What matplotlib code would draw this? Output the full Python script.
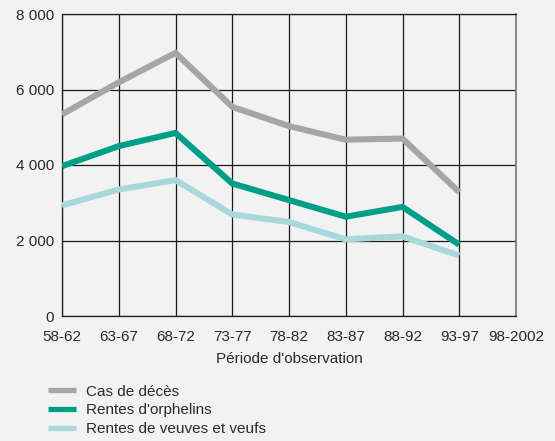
import numpy as np
import matplotlib.pyplot as plt

# Données
periodes = ['58-62', '63-67', '68-72', '73-77', '78-82', '83-87', '88-92', '93-97', '98-2002']
cas_deces = [5340, 6190, 6970, 5540, 5030, 4670, 4700, 3280]
rentes_orphelins = [3970, 4500, 4850, 3510, 3070, 2630, 2890, 1890]
rentes_veuves = [2930, 3350, 3600, 2690, 2490, 2030, 2110, 1600]
yticks = [0, 2000, 4000, 6000, 8000]
ytick_labels = ['0', '2 000', '4 000', '6 000', '8 000']

plt.rcParams['font.family'] = ['Liberation Sans', 'DejaVu Sans']
plt.rcParams['font.size'] = 11

fond = '#f2f2f2'
fig = plt.figure(figsize=(5.55, 4.41), dpi=100, facecolor=fond)
ax = fig.add_axes([62 / 555, 125 / 441, 454 / 555, 302 / 441])
ax.set_facecolor(fond)

x = np.arange(len(periodes))
series = [
    (cas_deces, '#a6a6a6', 'Cas de décès'),
    (rentes_orphelins, '#00a088', "Rentes d'orphelins"),
    (rentes_veuves, '#a9d8dc', 'Rentes de veuves et veufs'),
]
for vals, couleur, nom in series:
    ax.plot(x[:len(vals)], vals, color=couleur, lw=4.4, label=nom,
            solid_capstyle='butt', solid_joinstyle='miter', zorder=3)

ax.set_xlim(0, len(periodes) - 1)
ax.set_ylim(0, 8000)
ax.set_xticks(x)
ax.set_xticklabels(periodes)
ax.set_yticks(yticks)
ax.set_yticklabels(ytick_labels)
ax.tick_params(length=0, labelsize=11, colors='#2a2a2a')
ax.tick_params(axis='y', pad=5.5)
ax.tick_params(axis='x', pad=10)
ax.grid(True, color='#1a1a1a', lw=0.9, zorder=1)
for s in ['left', 'bottom', 'top']:
    ax.spines[s].set_color('#1a1a1a')
    ax.spines[s].set_linewidth(0.9)
ax.spines['right'].set_color('#777777')
ax.spines['right'].set_linewidth(1.2)

fig.text(289 / 555, 1 - 359 / 441, "Période d'observation", ha='center', va='center',
         fontsize=11, color='#2a2a2a')

leg = fig.legend(loc='upper left', bbox_to_anchor=(34.5 / 555, 1 - 371 / 441), frameon=False,
                 handlelength=1.8, handletextpad=0.7, labelspacing=0.3, fontsize=11,
                 labelcolor='#2a2a2a')
for h in leg.legend_handles:
    h.set_linewidth(3.8)

fig.savefig('out.png', dpi=100, facecolor=fond)
